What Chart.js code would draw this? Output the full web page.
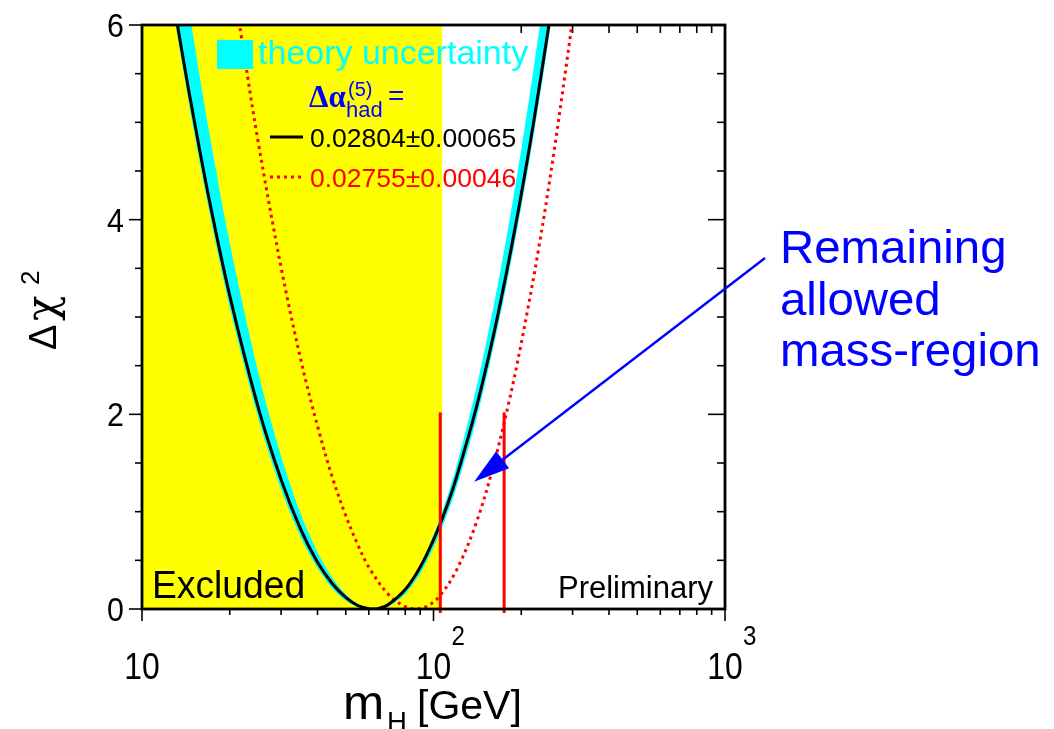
<!DOCTYPE html>
<html><head><meta charset="utf-8">
<script src="https://cdn.jsdelivr.net/npm/chart.js@4.4.1/dist/chart.umd.min.js"></script>
<style>html,body{margin:0;padding:0;background:#fff;overflow:hidden}#wrap{width:1054px;height:729px;position:relative}</style>
</head><body><div id="wrap"><canvas id="c" width="1054" height="729"></canvas></div>
<script>
// ---- data ----
const massBand  = [12.5,13,14,15,17,20,25,30,35,40,45,50,55,57,60,62,65,67,70,80,90,100,110,120,140,160,180,200,220,240,260];
const bandOuter = [6.33,6.02,5.45,4.94,4.09,3.10,1.97,1.23,0.74,0.42,0.21,0.084,0.019,0.006,0,0,0,0.006,0.024,0.155,0.365,0.63,0.93,1.25,1.94,2.67,3.40,4.13,4.85,5.56,6.26];
const bandInner = [7.48,7.12,6.46,5.88,4.90,3.76,2.44,1.57,0.98,0.585,0.32,0.15,0.051,0.028,0.006,0,0.004,0.014,0.041,0.205,0.45,0.76,1.10,1.47,2.26,3.08,3.90,4.72,5.53,6.33,7.11];
const massBlack = [13,14,15,17,20,25,30,35,40,45,50,55,60,62,65,70,80,90,100,110,120,140,160,180,200,220,250];
const chi2Black = [6.14,5.57,5.07,4.21,3.22,2.08,1.33,0.82,0.48,0.26,0.12,0.036,0.003,0,0.007,0.046,0.20,0.43,0.71,1.02,1.355,2.06,2.79,3.53,4.26,4.98,6.04];
const massRed   = [21,22,25,30,35,40,45,50,55,60,70,80,87,95,105,120,140,160,180,200,230,260,300];
const chi2Red   = [6.25,5.85,4.81,3.51,2.57,1.88,1.35,0.96,0.66,0.43,0.15,0.024,0,0.028,0.134,0.40,0.88,1.455,2.08,2.73,3.72,4.73,6.05];
const excludedMass = [10, 107.3];
const limitMasses = [105.5, 174.7];
const limitTop = 2.02;
const arrowFrom = {x: 1372, y: 3.606};
const arrowTo   = {x: 137.8, y: 1.308};
const xTickValues = [10, 100, 1000];
const xTickBase   = ['10', '10', '10'];
const xTickExp    = ['', '2', '3'];
const yTickValues = [0, 2, 4, 6];
const yTickLabels = ['0', '2', '4', '6'];
const legendBand  = 'theory uncertainty';
const legendBlack = '0.02804\u00B10.00065';
const legendRed   = '0.02755\u00B10.00046';
const noteLines   = ['Remaining', 'allowed', 'mass-region'];

const pts = (xs, ys) => xs.map((x, i) => ({x, y: ys[i]}));
const SANS = "'Liberation Sans', Arial, Helvetica, sans-serif";
const SERIF = "'Liberation Serif', 'Times New Roman', serif";
const GREEK = "'DejaVu Serif', 'Liberation Serif', serif";
const YEL = '#ffff00', CYAN = '#00ffff', RED = '#ff0000', BLUE = '#0000ff';

function txt(ctx, s, x, y, font, color, align, sx) {
  ctx.save();
  ctx.font = font; ctx.fillStyle = color; ctx.textBaseline = 'alphabetic';
  ctx.textAlign = align || 'left';
  ctx.translate(x, y); ctx.scale(sx || 1, 1);
  ctx.fillText(s, 0, 0);
  ctx.restore();
}
function seg(ctx, x1, y1, x2, y2) { ctx.beginPath(); ctx.moveTo(x1, y1); ctx.lineTo(x2, y2); ctx.stroke(); }

const xMinor = [];
[10, 100].forEach(d => { for (let k = 2; k <= 9; k++) xMinor.push(k * d); });

const deco = {
  id: 'deco',
  beforeDatasetsDraw(chart) {
    const ctx = chart.ctx, xs = chart.scales.x, ys = chart.scales.y, a = chart.chartArea;
    ctx.save(); ctx.strokeStyle = '#000'; ctx.lineWidth = 1.6;
    xMinor.forEach(v => { const p = xs.getPixelForValue(v); seg(ctx, p, a.top, p, a.top + 8); });
    xTickValues.forEach(v => { const p = xs.getPixelForValue(v); seg(ctx, p, a.top, p, a.top + 13); });
    for (let i = 0; i <= 12; i++) {
      const v = i * 0.5, p = ys.getPixelForValue(v), maj = (i % 4 === 0);
      seg(ctx, a.right, p, a.right - (maj ? 17 : 8), p);
    }
    ctx.restore();
  },
  afterDatasetsDraw(chart) {
    const ctx = chart.ctx, xs = chart.scales.x, ys = chart.scales.y, a = chart.chartArea;
    ctx.save();
    ctx.strokeStyle = '#000'; ctx.lineWidth = 1.6;
    for (let i = 0; i <= 12; i++) {
      const v = i * 0.5, p = ys.getPixelForValue(v), maj = (i % 4 === 0);
      seg(ctx, a.left, p, a.left - (maj ? 13 : 7), p);
    }
    xMinor.forEach(v => { const p = xs.getPixelForValue(v); seg(ctx, p, a.bottom, p, a.bottom + 6); });
    xTickValues.forEach(v => { const p = xs.getPixelForValue(v); seg(ctx, p, a.bottom, p, a.bottom + 12); });
    ctx.strokeStyle = RED; ctx.lineWidth = 3;
    limitMasses.forEach(m => { const p = xs.getPixelForValue(m); seg(ctx, p, a.bottom, p, a.bottom + 4); });
    ctx.strokeStyle = '#000'; ctx.lineWidth = 2.8;
    ctx.strokeRect(a.left, a.top, a.right - a.left, a.bottom - a.top);
    ctx.restore();

    yTickValues.forEach((v, i) => {
      const p = ys.getPixelForValue(v);
      txt(ctx, yTickLabels[i], 124, p + 12, '33px ' + SANS, '#000', 'right', 0.92);
    });
    xTickValues.forEach((v, i) => {
      const p = xs.getPixelForValue(v);
      txt(ctx, xTickBase[i], p, 679, '37px ' + SANS, '#000', 'center', 0.86);
      if (xTickExp[i]) txt(ctx, xTickExp[i], p + 18, 645, '28px ' + SANS, '#000', 'left', 0.86);
    });
    // x title m_H [GeV]
    txt(ctx, 'm', 343, 719, '48px ' + SANS, '#000', 'left', 1.03);
    txt(ctx, 'H', 387, 732, '29px ' + SANS, '#000', 'left', 0.95);
    txt(ctx, '[GeV]', 417, 719, '41px ' + SANS, '#000', 'left', 1);
    // y title Δχ²
    ctx.save();
    ctx.translate(42, 306); ctx.rotate(-Math.PI / 2);
    txt(ctx, '\u0394', -44, 14, '38px ' + SANS, '#000', 'left', 1);
    txt(ctx, '\u03C7', -15, 14, '42px ' + GREEK, '#000', 'left', 1);
    txt(ctx, '2', 21, -3, '26px ' + SANS, '#000', 'left', 1);
    ctx.restore();

    txt(ctx, 'Excluded', 152, 598, '38px ' + SANS, '#000', 'left', 0.98);
    txt(ctx, 'Preliminary', 713, 598, '31px ' + SANS, '#000', 'right', 1);

    // legend
    ctx.fillStyle = CYAN; ctx.fillRect(217, 40, 36, 29);
    txt(ctx, legendBand, 258, 64, '33px ' + SANS, CYAN, 'left', 1.03);
    txt(ctx, '\u0394\u03B1', 309, 107, "bold 31px " + SERIF, BLUE, 'left', 1);
    txt(ctx, '(5)', 348, 96, '20px ' + SANS, BLUE, 'left', 1);
    txt(ctx, 'had', 346, 117, '22px ' + SANS, BLUE, 'left', 1);
    txt(ctx, '=', 388, 105, '28px ' + SANS, BLUE, 'left', 1);
    ctx.save();
    ctx.strokeStyle = '#000'; ctx.lineWidth = 3; seg(ctx, 270, 137, 303, 137);
    ctx.strokeStyle = RED; ctx.lineWidth = 3; ctx.setLineDash([3, 4]); seg(ctx, 270, 177, 303, 177);
    ctx.restore();
    txt(ctx, legendBlack, 310, 147, '26.5px ' + SANS, '#000', 'left', 1);
    txt(ctx, legendRed, 310, 187, '26.5px ' + SANS, RED, 'left', 1);

    // arrow
    const x1 = xs.getPixelForValue(arrowFrom.x), y1 = ys.getPixelForValue(arrowFrom.y);
    const x2 = xs.getPixelForValue(arrowTo.x), y2 = ys.getPixelForValue(arrowTo.y);
    const ang = Math.atan2(y2 - y1, x2 - x1), L = 36, W = 10.6;
    const bx = x2 - L * Math.cos(ang), by = y2 - L * Math.sin(ang);
    ctx.save();
    ctx.strokeStyle = BLUE; ctx.fillStyle = BLUE; ctx.lineWidth = 2.4;
    seg(ctx, x1, y1, bx, by);
    ctx.beginPath();
    ctx.moveTo(x2, y2);
    ctx.lineTo(bx + W * Math.sin(ang), by - W * Math.cos(ang));
    ctx.lineTo(bx - W * Math.sin(ang), by + W * Math.cos(ang));
    ctx.closePath(); ctx.fill();
    ctx.restore();
    noteLines.forEach((s, i) => txt(ctx, s, 780, 263 + i * 51.5, '46px ' + SANS, BLUE, 'left', 1.03));
  }
};

new Chart(document.getElementById('c'), {
  type: 'line',
  data: {
    datasets: [
      { label: 'excluded', data: pts(excludedMass, [6, 6]), borderWidth: 0, borderColor: YEL,
        backgroundColor: YEL, fill: 'start', tension: 0, order: 10 },
      { label: 'band lower', data: pts(massBand, bandOuter), borderWidth: 0, borderColor: CYAN,
        backgroundColor: CYAN, fill: false, tension: 0.3, order: 9 },
      { label: 'theory uncertainty', data: pts(massBand, bandInner), borderWidth: 0, borderColor: CYAN,
        backgroundColor: CYAN, fill: '-1', tension: 0.3, order: 8 },
      { label: legendRed, data: pts(massRed, chi2Red), borderColor: RED, borderWidth: 3,
        borderDash: [3, 4], fill: false, tension: 0.35, order: 7 },
      { label: legendBlack, data: pts(massBlack, chi2Black), borderColor: '#000', borderWidth: 3,
        fill: false, tension: 0.35, order: 6 },
      { label: 'limit 1', data: pts([limitMasses[0], limitMasses[0]], [0, limitTop]), borderColor: RED,
        borderWidth: 3, fill: false, tension: 0, order: 5 },
      { label: 'limit 2', data: pts([limitMasses[1], limitMasses[1]], [0, limitTop]), borderColor: RED,
        borderWidth: 3, fill: false, tension: 0, order: 5 }
    ]
  },
  options: {
    responsive: false, animation: false, devicePixelRatio: 1,
    layout: { padding: { left: 142, right: 329, top: 25, bottom: 120 } },
    elements: { point: { radius: 0, hoverRadius: 0 } },
    plugins: { legend: { display: false }, tooltip: { enabled: false } },
    scales: {
      x: { type: 'logarithmic', min: 10, max: 1000, display: false },
      y: { type: 'linear', min: 0, max: 6, display: false }
    }
  },
  plugins: [deco]
});
</script>
</body></html>
